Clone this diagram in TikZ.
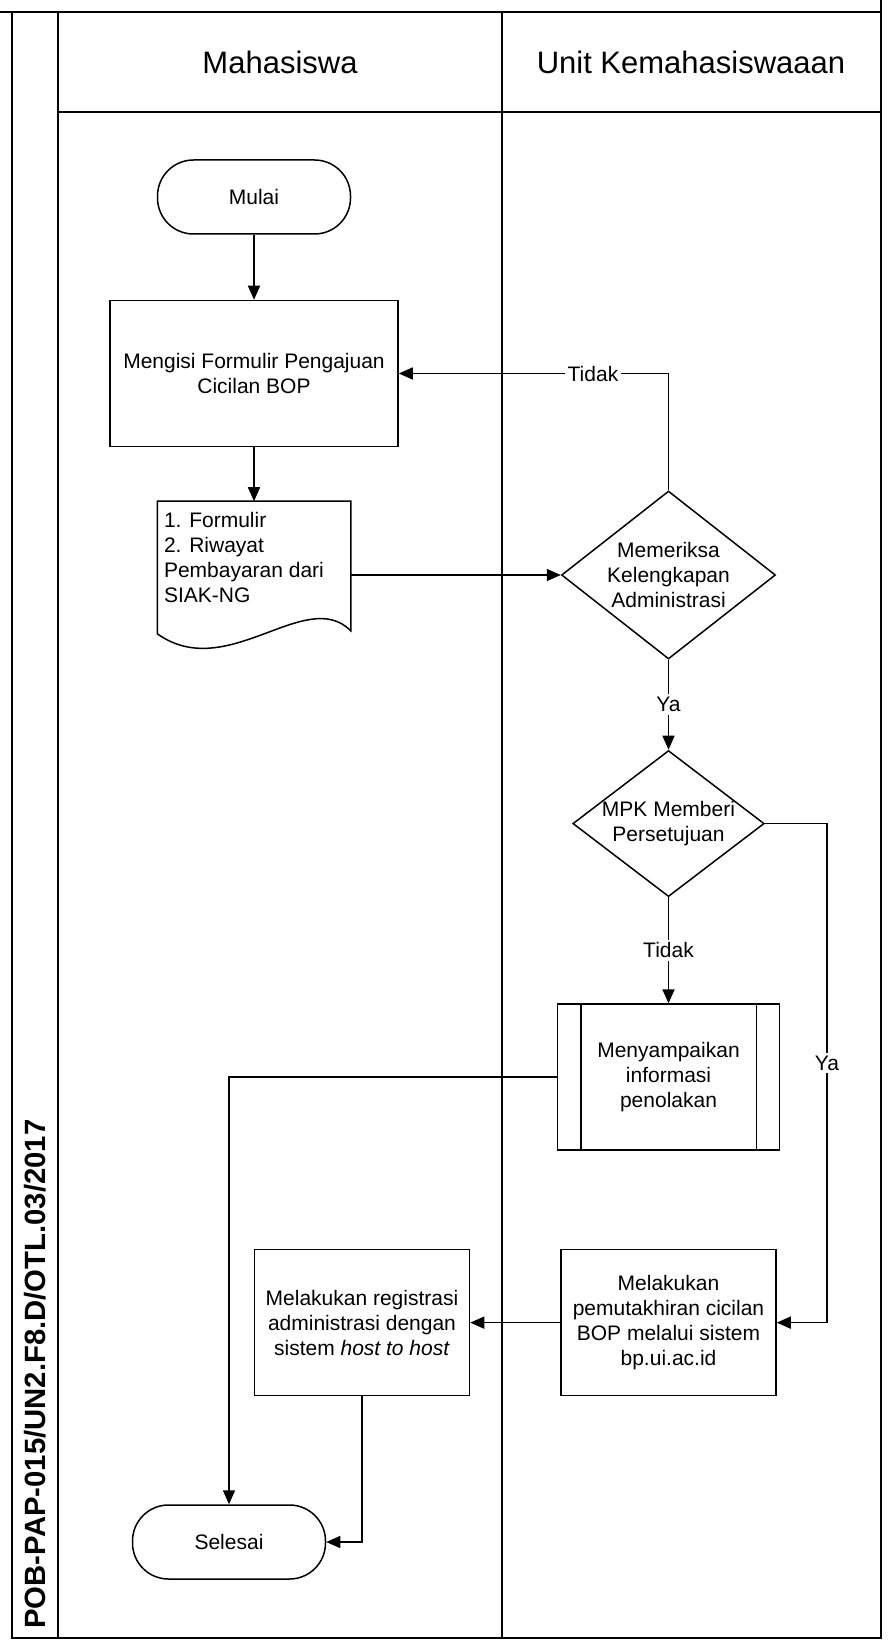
\documentclass[tikz,border=0pt]{standalone}
\usepackage{fontspec}
\setmainfont{Liberation Sans}
\usetikzlibrary{arrows.meta,positioning,shapes.geometric}

\begin{document}
\begin{tikzpicture}[x=0.5pt,y=-0.5pt,>={Triangle[length=7pt,width=6pt]},line width=0.75pt,
		font=\fontsize{10.5}{12.5}\selectfont]
		\tikzstyle{term}=[draw,rectangle,rounded corners=18pt,minimum width=96.5pt,minimum height=37pt]
		\tikzstyle{proc}=[draw,rectangle,align=center,inner sep=2pt,minimum width=107.5pt,minimum height=73pt]
		\tikzstyle{cond}=[draw,diamond,align=center,inner sep=0pt,aspect=1.3]
		\tikzstyle{docu}=[rectangle,minimum width=96pt,minimum height=73pt]
		\tikzstyle{lbl}=[fill=white,inner sep=1.5pt]

		\useasboundingbox (0,0) rectangle (891,1641);

		% frame and lanes
		\draw[line width=1.2pt] (0,12) -- (881,12);
		\draw (881,0) -- (881,1638) -- (12,1638) -- (12,12);
		\draw (58,12) -- (58,1638);
		\draw (502,12) -- (502,1638);
		\draw (58,112) -- (881,112);
		\node[font=\fontsize{15.5}{18}\selectfont] (mhs) at (280,62) {Mahasiswa};
		\node[font=\fontsize{15.5}{18}\selectfont] (unit) at (691,62) {Unit Kemahasiswaaan};
		\node[rotate=90,font=\bfseries\fontsize{14.65}{17}\selectfont] (kode) at (35,1374) {POB-PAP-015/UN2.F8.D/OTL.03/2017};

		\node[term]					(1) at (254,197)	{Mulai};
		\node[proc,minimum width=144pt]	(2) [below=32.5pt of 1]	{Mengisi Formulir Pengajuan\\Cicilan BOP};
		\node[docu]					(3) [below=27pt of 2]	{};
		\node[cond,minimum width=107pt,minimum height=84pt]	(4) [right=105pt of 3]	{Memeriksa\\Kelengkapan\\Administrasi};
		\node[cond,aspect=1.31]		(5) [below=45pt of 4]	{MPK Memberi\\Persetujuan};
		\node[proc,minimum width=111pt]	(6) [below=53pt of 5]	{Menyampaikan\\informasi\\penolakan};
		\node[proc]					(7) [below=49pt of 6]	{Melakukan\\pemutakhiran cicilan\\BOP melalui sistem\\bp.ui.ac.id};
		\node[proc]					(8) [left=45pt of 7]	{Melakukan registrasi\\administrasi dengan\\sistem \textit{host to host}};
		\node[term]					(9) at (229,1542)	{Selesai};

		% document shape and its text
		\draw (3.north west) -- (3.north east) -- ([yshift=9pt]3.south east)
			.. controls +(-45,-45) and +(70,50) .. ([yshift=7.5pt]3.south west) -- cycle;
		\node[anchor=north west,align=left,inner sep=0pt] (3a) at ([xshift=3pt,yshift=-5pt]3.north west)
			{1. Formulir\\2. Riwayat\\Pembayaran dari\\SIAK-NG};

		% predefined process bars
		\draw ([xshift=12pt]6.north west) -- ([xshift=12pt]6.south west);
		\draw ([xshift=-12pt]6.north east) -- ([xshift=-12pt]6.south east);

		\path[->]	(1) edge (2)
				(2) edge (3)
				(3) edge (4)
				(4) edge node[lbl] {Ya} (5)
				(5) edge node[lbl] {Tidak} (6)
				(7) edge (8);
		\draw[->] (4.north) |- node[lbl,pos=0.64] {Tidak} (2.east);
		\draw[->] (5.east) -- ++(31pt,0) |- node[lbl,pos=0.24] {Ya} (7.east);
		\draw[->] (6.west) -| (9.north);
		\draw[->] (8.south) |- (9.east);
\end{tikzpicture}
\end{document}
